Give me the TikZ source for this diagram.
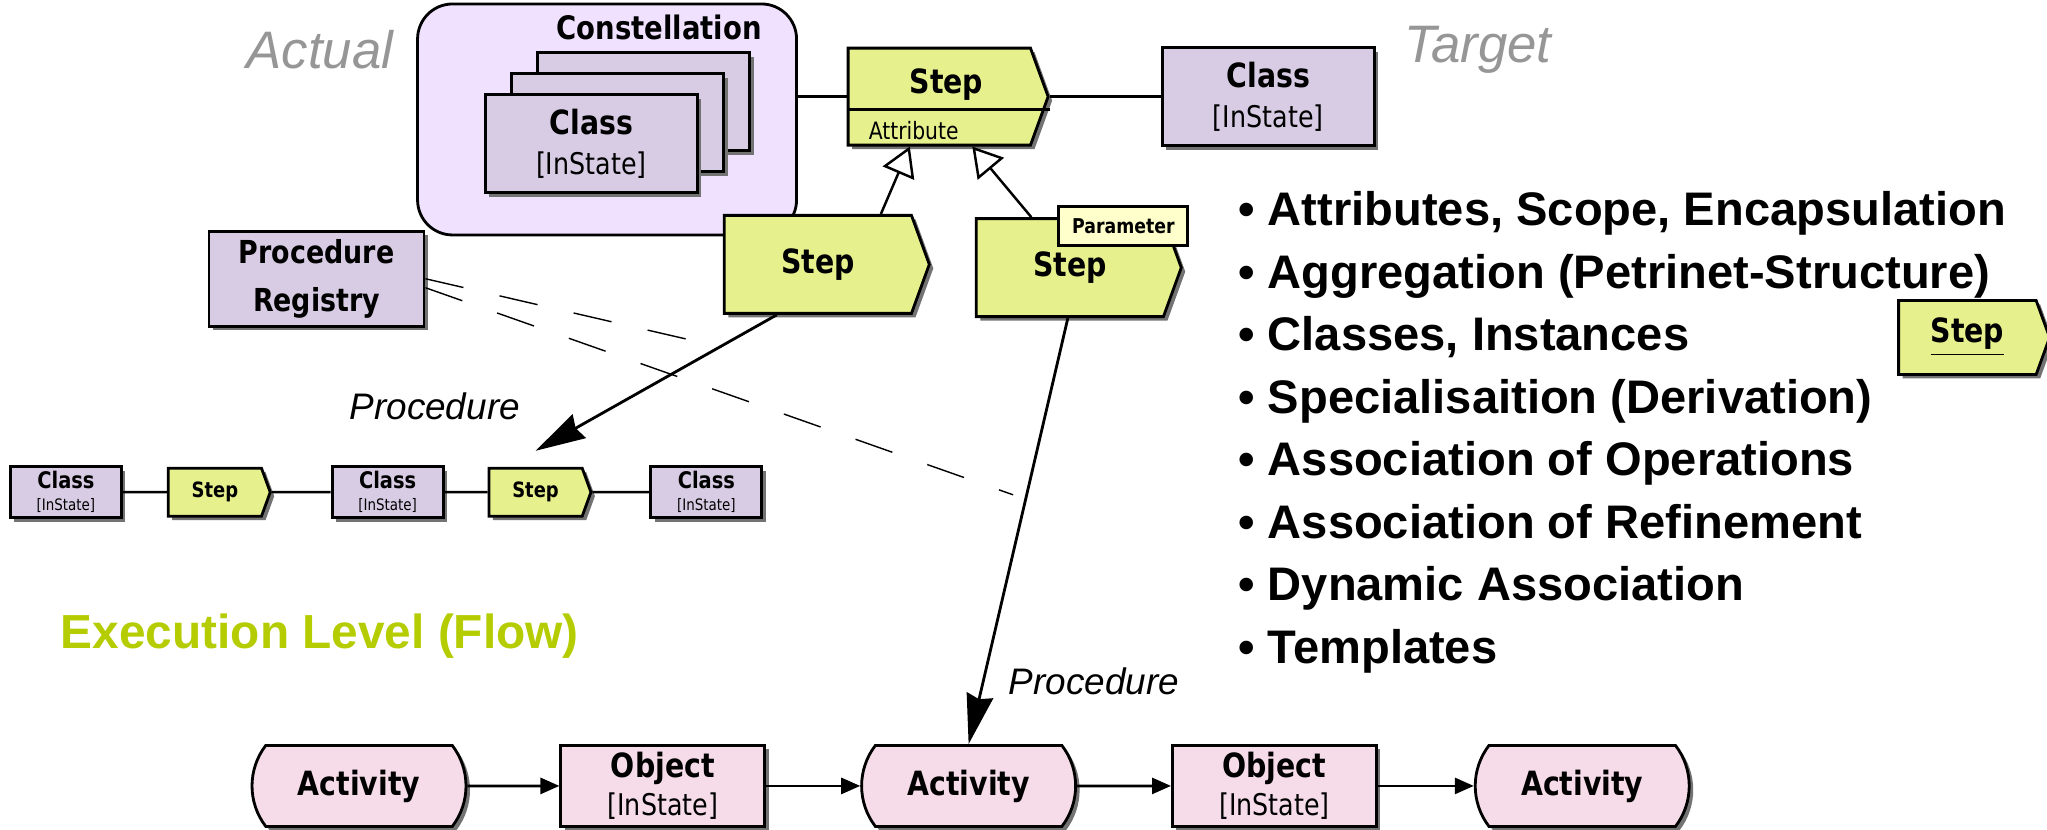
\documentclass[tikz,border=0pt]{standalone}
\usepackage{fontspec}
\setmainfont{Liberation Sans}
\newfontfamily\boxfont[FakeStretch=0.85]{DejaVu Sans}
\usetikzlibrary{positioning, arrows.meta, shapes.symbols, shapes.misc, shadows}

\definecolor{classfill}{RGB}{216,204,228}
\definecolor{stepfill}{RGB}{230,240,140}
\definecolor{constfill}{RGB}{240,226,255}
\definecolor{paramfill}{RGB}{255,255,204}
\definecolor{actfill}{RGB}{245,220,232}
\definecolor{execgreen}{RGB}{180,204,0}
\definecolor{levelgray}{RGB}{150,150,150}

\newcommand{\stateline}[1]{{\fontsize{#1}{#1}\selectfont[InState]}}

\begin{document}
\begin{tikzpicture}[x=0.13055mm, y=-0.13055mm,
        shadowed/.style={drop shadow={shadow xshift=0.4mm, shadow yshift=-0.4mm, fill=black!55, opacity=1}},
        classbox/.style={draw, line width=0.8pt, fill=classfill, shadowed, align=center, inner sep=0pt,
            font=\boxfont\fontsize{9.5}{11.5}\selectfont, minimum width=21.2mm, minimum height=9.8mm},
        smallclass/.style={classbox, font=\boxfont\fontsize{6.5}{6.2}\selectfont, minimum width=11.1mm, minimum height=5.1mm},
        stepbox/.style={signal, signal to=east, signal pointer angle=140, draw, line width=0.8pt, fill=stepfill, shadowed,
            inner sep=0pt, font=\boxfont\bfseries\fontsize{9.5}{11}\selectfont, minimum width=20.5mm, minimum height=9.8mm},
        smallstep/.style={stepbox, font=\boxfont\bfseries\fontsize{6}{7}\selectfont, minimum width=10.2mm, minimum height=4.8mm},
        activity/.style={rounded rectangle, rounded rectangle arc length=75, draw, line width=0.8pt, fill=actfill, shadowed,
            inner sep=0pt, font=\boxfont\bfseries\fontsize{9.5}{11}\selectfont, minimum width=21.4mm, minimum height=8.1mm},
        objectbox/.style={draw, line width=0.8pt, fill=actfill, shadowed, align=center, inner sep=0pt,
            font=\boxfont\fontsize{9.5}{11}\selectfont, minimum width=20.4mm, minimum height=8.1mm},
        parambox/.style={draw, line width=0.8pt, fill=paramfill, inner sep=0pt,
            font=\boxfont\bfseries\fontsize{5.8}{7}\selectfont, minimum width=12.9mm, minimum height=3.9mm},
        link/.style={line width=0.7pt},
        flow/.style={line width=0.8pt, -{Triangle[length=1.9mm, width=1.6mm]}},
        proc/.style={line width=0.8pt, -{Stealth[length=5mm, width=2.7mm, inset=0.4mm]}},
        general/.style={line width=0.7pt, -{Triangle[open, length=2.9mm, width=3.4mm, fill=white]}},
        regline/.style={line width=0.4pt, dash pattern=on 3.9mm off 3.7mm},
        level/.style={font=\fontsize{15}{18}\selectfont\itshape, text=levelgray},
        proclabel/.style={font=\fontsize{10.5}{12}\selectfont\itshape}]

        \useasboundingbox (0,0) rectangle (1568,635);

        % type level
        \node[level] (actual) at (245,38) {Actual};
        \node[level] (target) at (1132,38) {Target};

        \node[draw, line width=0.8pt, fill=constfill, rounded corners=3.5mm,
              minimum width=37.9mm, minimum height=23.1mm] (constel) at (465,91.5) {};
        \node[font=\boxfont\bfseries\fontsize{9.2}{11}\selectfont] (constelname) at (505,21) {Constellation};
        \node[classbox] (clsBack) at (493,78) {};
        \node[classbox] (clsMid) at (473,94) {};
        \node[classbox] (clsFront) at (453,110) {{\bfseries Class}\\\stateline{8.5}};

        \node[stepbox, minimum width=20mm, minimum height=9.7mm] (stepT) at (719.5,74) {};
        \node[font=\boxfont\bfseries\fontsize{9.5}{11}\selectfont] (stepTname) at (725,65) {Step};
        \node[anchor=west, font=\boxfont\fontsize{6.8}{8}\selectfont] (stepTattr) at (656,100) {Attribute};
        \draw[link] ([yshift=-1.3mm]stepT.west) -- ([yshift=-1.3mm]stepT.east);

        \node[classbox] (clsT) at (971.5,74) {{\bfseries Class}\\\stateline{8.5}};

        \draw[link] (constel.east |- stepT.west) -- (stepT.west);
        \draw[link] (stepT.east) -- (clsT.west);

        \node[classbox, minimum width=21.5mm, minimum height=9.5mm,
              font=\boxfont\bfseries\fontsize{9}{13.7}\selectfont] (registry) at (242.5,213.5) {Procedure\\Registry};

        \node[stepbox] (stepL) at (626.5,202.5) {Step};
        \node[stepbox] (stepR) at (819.5,205) {Step};
        \node[parambox] (param) at (860.5,173) {Parameter};

        \draw[general] ([xshift=6.3mm]stepL.north) -- ([xshift=-2.95mm]stepT.south);
        \draw[general] ([xshift=-3.85mm]stepR.north) -- ([xshift=3.3mm]stepT.south);

        % procedure level
        \node[smallclass] (clsA) at (50.5,377) {{\bfseries Class}\\\stateline{4.5}};
        \node[smallstep, right=4.4mm of clsA] (stepA) {Step};
        \node[smallclass, right=5.9mm of stepA] (clsB) {{\bfseries Class}\\\stateline{4.5}};
        \node[smallstep, right=4.3mm of clsB] (stepB) {Step};
        \node[smallclass, right=5.7mm of stepB] (clsC) {{\bfseries Class}\\\stateline{4.5}};

        \draw[link] (clsA) -- (stepA)
                    (stepA) -- (clsB)
                    (clsB) -- (stepB)
                    (stepB) -- (clsC);

        \coordinate (regendA) at (553,266);
        \coordinate (regendB) at (776,379);
        \draw[regline] (registry.east) -- (regendA);
        \draw[regline] ([yshift=-0.9mm]registry.east) -- (regendB);

        % execution level
        \node[font=\bfseries\fontsize{13.6}{16}\selectfont, text=execgreen] (execlevel) at (245,487) {Execution Level (Flow)};

        \node[activity] (actA) at (275,602) {Activity};
        \node[objectbox, right=9.2mm of actA] (objA) {{\bfseries Object}\\\stateline{8.5}};
        \node[activity, right=9.4mm of objA] (actB) {Activity};
        \node[objectbox, right=9.4mm of actB] (objB) {{\bfseries Object}\\\stateline{8.5}};
        \node[activity, right=9.6mm of objB] (actC) {Activity};

        \draw[flow] (actA) -- (objA);
        \draw[flow] (objA) -- (actB);
        \draw[flow] (actB) -- (objB);
        \draw[flow] (objB) -- (actC);

        \draw[proc] ([xshift=-4.1mm]stepL.south) -- ([yshift=1.6mm]stepB.north);
        \draw[proc] ([xshift=-0.2mm]stepR.south) -- (actB.north);
        \node[proclabel] (procA) at (333,311) {Procedure};
        \node[proclabel] (procB) at (838,522) {Procedure};

        % feature list
        \node[anchor=north west, align=left, inner sep=0pt,
              font=\bfseries\fontsize{13.4}{17.8}\selectfont] (features) at (948,146)
              {\textbullet\ Attributes, Scope, Encapsulation\\
               \textbullet\ Aggregation (Petrinet-Structure)\\
               \textbullet\ Classes, Instances\\
               \textbullet\ Specialisaition (Derivation)\\
               \textbullet\ Association of Operations\\
               \textbullet\ Association of Refinement\\
               \textbullet\ Dynamic Association\\
               \textbullet\ Templates};

        \node[stepbox, minimum width=15.1mm, minimum height=7.4mm] (stepU) at (1507,258.5) {\underline{Step}};

\end{tikzpicture}
\end{document}
